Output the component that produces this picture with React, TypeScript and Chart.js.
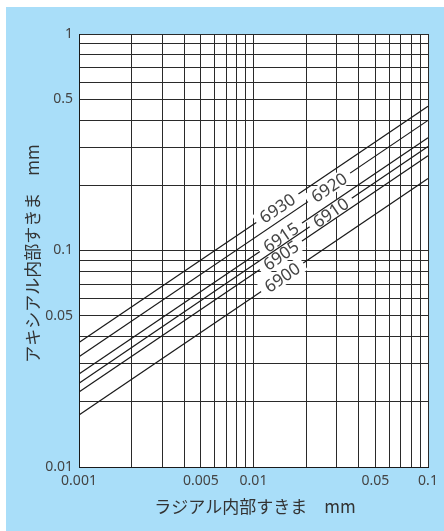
import React, { useEffect, useRef } from 'react';
import { Chart, registerables } from 'chart.js';

Chart.register(...registerables);

// ---- data ----
const radialClearance = [0.001, 0.1];
const axial6930 = [0.0376, 0.464];
const axial6920 = [0.0323, 0.399];
const axial6915 = [0.0269, 0.332];
const axial6910 = [0.0244, 0.302];
const axial6905 = [0.0222, 0.274];
const axial6900 = [0.0174, 0.215];
const seriesNames = ['6930', '6920', '6915', '6910', '6905', '6900'];
const seriesValues = [axial6930, axial6920, axial6915, axial6910, axial6905, axial6900];
const labelRadial = [0.0137, 0.0271, 0.01435, 0.0277, 0.01435, 0.0146];
const xTickLabels = [0.001, 0.005, 0.01, 0.05, 0.1];
const yTickLabels = [0.01, 0.05, 0.1, 0.5, 1];
const xTitle = 'ラジアル内部すきま　mm';
const yTitle = 'アキシアル内部すきま　mm';

const X_MIN = 0.001, X_MAX = 0.1, Y_MIN = 0.01, Y_MAX = 1;

function logGrid(min: number, max: number): number[] {
  const out: number[] = [];
  const e0 = Math.round(Math.log10(min));
  const e1 = Math.round(Math.log10(max));
  for (let e = e0; e < e1; e++) {
    for (let m = 1; m <= 9; m++) out.push(Number((m * Math.pow(10, e)).toPrecision(6)));
  }
  out.push(max);
  return out;
}

function labelFor(list: number[]) {
  return (v: any) => {
    const n = Number(v);
    const hit = list.find((l) => Math.abs(Math.log10(l) - Math.log10(n)) < 1e-6);
    return hit !== undefined ? String(hit) : '';
  };
}

const BLUE = '#a9def9';
const LABEL_FONT = '17px "Noto Sans", sans-serif';

function labelGeom(chart: any, i: number) {
  const { x, y } = chart.scales;
  const pts = chart.data.datasets[i].data as { x: number; y: number }[];
  const x0 = x.getPixelForValue(pts[0].x), y0 = y.getPixelForValue(pts[0].y);
  const x1 = x.getPixelForValue(pts[1].x), y1 = y.getPixelForValue(pts[1].y);
  const ang = Math.atan2(y1 - y0, x1 - x0);
  const lx = labelRadial[i];
  const t = (Math.log10(lx) - Math.log10(pts[0].x)) / (Math.log10(pts[1].x) - Math.log10(pts[0].x));
  const ly = Math.pow(10, Math.log10(pts[0].y) + t * (Math.log10(pts[1].y) - Math.log10(pts[0].y)));
  return { px: x.getPixelForValue(lx), py: y.getPixelForValue(ly), ang };
}

const bgPlugin = {
  id: 'plotBg',
  beforeDraw(chart: any) {
    const { ctx, chartArea: a } = chart;
    ctx.save();
    ctx.fillStyle = '#ffffff';
    ctx.fillRect(a.left, a.top, a.right - a.left, a.bottom - a.top);
    ctx.restore();
  },
};

const lineLabelPlugin = {
  id: 'lineLabels',
  beforeDatasetsDraw(chart: any) {
    const { ctx } = chart;
    ctx.save();
    ctx.font = LABEL_FONT;
    seriesNames.forEach((name, i) => {
      const { px, py, ang } = labelGeom(chart, i);
      const tw = ctx.measureText(name).width;
      ctx.save();
      ctx.translate(px, py);
      ctx.rotate(ang);
      ctx.fillStyle = '#ffffff';
      ctx.fillRect(-tw / 2 - 6, -8, tw + 12, 16);
      ctx.restore();
    });
    ctx.restore();
  },
  afterDatasetsDraw(chart: any) {
    const { ctx } = chart;
    ctx.save();
    ctx.font = LABEL_FONT;
    seriesNames.forEach((name, i) => {
      const { px, py, ang } = labelGeom(chart, i);
      const tw = ctx.measureText(name).width;
      ctx.save();
      ctx.translate(px, py);
      ctx.rotate(ang);
      ctx.fillStyle = '#ffffff';
      ctx.fillRect(-tw / 2 - 6, -2.5, tw + 12, 5);
      ctx.fillStyle = '#444444';
      ctx.textAlign = 'center';
      ctx.textBaseline = 'alphabetic';
      ctx.fillText(name, 0, 6);
      ctx.restore();
    });
    ctx.restore();
  },
};

const titlePlugin = {
  id: 'axisTitles',
  afterDraw(chart: any) {
    const { ctx, chartArea: a } = chart;
    ctx.save();
    ctx.font = '17px "Noto Sans CJK JP", sans-serif';
    ctx.fillStyle = '#333333';
    ctx.textAlign = 'center';
    ctx.textBaseline = 'middle';
    ctx.fillText(xTitle, (a.left + a.right) / 2 + 1.5, a.bottom + 40);
    ctx.translate(26.5, (a.top + a.bottom) / 2 + 3);
    ctx.rotate(-Math.PI / 2);
    ctx.fillText(yTitle, 0, 0);
    ctx.restore();
  },
};

export default function App() {
  const ref = useRef<HTMLCanvasElement | null>(null);
  useEffect(() => {
    if (!ref.current) return;
    const xGrid = logGrid(X_MIN, X_MAX);
    const yGrid = logGrid(Y_MIN, Y_MAX);
    const tickFont = { family: '"Noto Sans", sans-serif', size: 14 };
    const grid = { color: '#2a2a2a', lineWidth: 1, drawTicks: false };
    const border = { display: true, color: '#1a1a1a', width: 1 };
    const chart = new Chart(ref.current, {
      type: 'line',
      data: {
        datasets: seriesValues.map((vals, i) => ({
          label: seriesNames[i],
          data: radialClearance.map((r, j) => ({ x: r, y: vals[j] })),
          borderColor: '#1a1a1a',
          borderWidth: 1.2,
          pointRadius: 0,
          fill: false,
          tension: 0,
        })),
      },
      options: {
        animation: false,
        responsive: false,
        layout: { padding: { top: 27, right: 16, left: 0, bottom: 0 } },
        plugins: { legend: { display: false }, tooltip: { enabled: false } },
        scales: {
          x: {
            type: 'logarithmic',
            min: X_MIN,
            max: X_MAX,
            afterBuildTicks: (s: any) => { s.ticks = xGrid.map((v) => ({ value: v })); },
            afterFit: (s: any) => { s.height = 64; },
            grid,
            border,
            ticks: { autoSkip: false, maxRotation: 0, padding: 6, font: tickFont, color: '#444444', callback: labelFor(xTickLabels) },
          },
          y: {
            type: 'logarithmic',
            min: Y_MIN,
            max: Y_MAX,
            afterBuildTicks: (s: any) => { s.ticks = yGrid.map((v) => ({ value: v })); },
            afterFit: (s: any) => { s.width = 73; },
            grid,
            border,
            ticks: { autoSkip: false, padding: 6, font: tickFont, color: '#444444', callback: labelFor(yTickLabels) },
          },
        },
      } as any,
      plugins: [bgPlugin, lineLabelPlugin, titlePlugin],
    });
    return () => chart.destroy();
  }, []);
  return (
    <div style={{ position: 'fixed', left: 0, top: 0, width: 444, height: 531, background: '#ffffff' }}>
      <div style={{ position: 'absolute', left: 6, top: 7, width: 438, height: 524, background: BLUE }}>
        <canvas ref={ref} width={438} height={524} style={{ display: 'block', width: 438, height: 524 }} />
      </div>
    </div>
  );
}
